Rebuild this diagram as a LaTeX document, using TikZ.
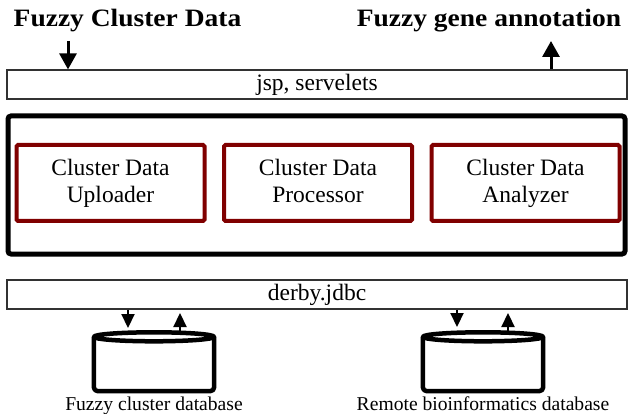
\documentclass[tikz,border=0pt]{standalone}
\usepackage{fontspec}
\setmainfont{Liberation Serif}
\usetikzlibrary{arrows.meta,calc}
\definecolor{boxred}{RGB}{128,0,0}
\definecolor{thinline}{RGB}{50,50,50}
\begin{document}
\begin{tikzpicture}[x=1pt,y=-1pt,
  titletext/.style={anchor=base,inner sep=0pt,font=\fontsize{25}{30}\selectfont\bfseries},
  barbox/.style={draw=thinline,line width=1.2pt,minimum width=620pt,minimum height=29pt,inner sep=0pt,font=\fontsize{23.5}{27}\selectfont},
  outerbox/.style={draw=black,line width=5pt,rounded corners=3pt,minimum width=617pt,minimum height=138pt,inner sep=0pt},
  modbox/.style={draw=boxred,line width=4pt,rounded corners=1.5pt,minimum width=188pt,minimum height=76pt,inner sep=0pt,align=center,font=\fontsize{23.5}{27}\selectfont},
  bigarrow/.style={line width=3pt,-{Triangle[length=16pt,width=17pt]}},
  smallarrow/.style={line width=2.2pt,-{Triangle[length=14pt,width=13pt]}},
  dbwall/.style={line width=4.5pt,line join=round},
  dblabel/.style={anchor=base,inner sep=0pt,font=\fontsize{19.6}{23}\selectfont},
]
\useasboundingbox (0,0) rectangle (629,414);
% titles
\node[titletext] (tin) at (127.5,27) {\scalebox{1.1}[1]{Fuzzy Cluster Data}};
\node[titletext] (tout) at (489,27) {\scalebox{1.1}[1]{Fuzzy gene annotation}};
% bars
\node[barbox] (jsp) at (317,84.5) {jsp, servelets};
\node[barbox] (derby) at (317,294.5) {derby.jdbc};
% outer container
\node[outerbox] (core) at (316.5,185) {};
\node[modbox] (up) at (110.5,183) {Cluster Data\\Uploader};
\node[modbox] (proc) at (318,183) {Cluster Data\\Processor\vphantom{y}};
\node[modbox] (ana) at (525.5,183) {Cluster Data\\Analyzer};
% top arrows
\coordinate (t1) at (68,41);
\coordinate (t2) at (551,41);
\draw[bigarrow] (t1) -- (t1 |- jsp.north);
\draw[bigarrow] (t2 |- jsp.north) -- (t2);
% databases
\node[minimum width=120pt,minimum height=58pt,inner sep=0pt] (db1) at (154,362) {};
\node[minimum width=120pt,minimum height=58pt,inner sep=0pt] (db2) at (483,362) {};
\foreach \d in {db1,db2}{
  \draw[dbwall,fill=white,rounded corners=4pt] ($(\d.north west)+(0,4)$) -- (\d.south west) -- (\d.south east) -- ($(\d.north east)+(0,4)$);
  \draw[dbwall,fill=white] ($(\d.north)+(0,4)$) ellipse [x radius=60pt,y radius=4.5pt];
}
\node[dblabel] (l1) at (154,410) {Fuzzy cluster database};
\node[dblabel] (l2) at (483,410) {Remote bioinformatics database};
% db arrows
\coordinate (d1) at (128,328);
\coordinate (u1) at (180,313);
\coordinate (d2) at (457,327);
\coordinate (u2) at (508,313);
\draw[smallarrow] (derby.south -| d1) -- (d1);
\draw[smallarrow] ($(db1.north -| u1)+(0,-1)$) -- (u1);
\draw[smallarrow] (derby.south -| d2) -- (d2);
\draw[smallarrow] ($(db2.north -| u2)+(0,-1)$) -- (u2);
\end{tikzpicture}
\end{document}
